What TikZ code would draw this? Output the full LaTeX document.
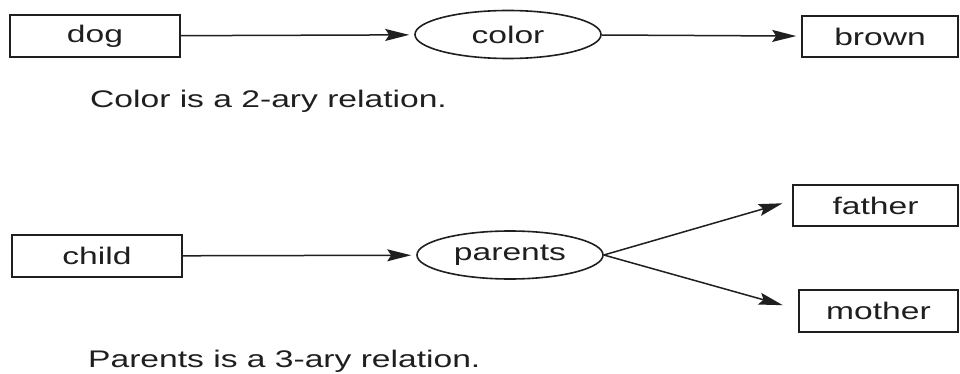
\documentclass[tikz,border=0pt]{standalone}
\usepackage{fontspec}
\setmainfont[FakeStretch=1.4]{Liberation Sans}
\usetikzlibrary{shapes.geometric,arrows.meta}
\begin{document}
\begin{tikzpicture}[x=1pt,y=-1pt,
  ink/.style={draw=black!88, line width=1.6pt},
  lbl/.style={font=\fontsize{24}{28}\selectfont, text=black!88},
  term/.style={ink, lbl, rectangle, inner sep=0pt, minimum height=42pt},
  rel/.style={ink, lbl, ellipse, inner sep=0pt, minimum width=186pt, minimum height=48pt},
  link/.style={draw=black!88, line width=1.5pt, -{Stealth[length=24pt,width=12pt,inset=4pt]}},
  caption/.style={lbl, anchor=base west, inner sep=0pt}]
\useasboundingbox (0,0) rectangle (960,374);
\fill[white] (0,0) rectangle (960,374);
\clip (0,0) rectangle (960,374);

% binary relation
\node[term, minimum width=170pt] (dog) at (95,36) {dog};
\node[rel] (color) at (508,34.5) {color};
\node[term, minimum width=156pt, minimum height=41pt] (brown) at (880,36.5) {brown};
\node[caption] (cap1) at (90,108) {Color is a 2-ary relation.};

\draw[link, shorten >=5pt] (dog) -- (color);
\draw[link, shorten >=5pt] (color) -- (brown);

% ternary relation
\node[term, minimum width=170pt] (child) at (97,256) {child};
\node[rel] (parents) at (510,255) {parents};
\node[term, minimum width=165pt, minimum height=41pt] (father) at (875.5,205.5) {father};
\node[term, minimum width=159pt] (mother) at (878.5,311) {mother};
\node[caption] (cap2) at (88,367) {Parents is a 3-ary relation.};

\draw[link, shorten >=5pt] (child) -- (parents);
\draw[link, shorten >=10pt] (parents.east) -- ([yshift=5pt]father.west);
\draw[link, shorten >=16pt] (parents.east) -- ([yshift=1.5pt]mother.west);
\end{tikzpicture}
\end{document}
